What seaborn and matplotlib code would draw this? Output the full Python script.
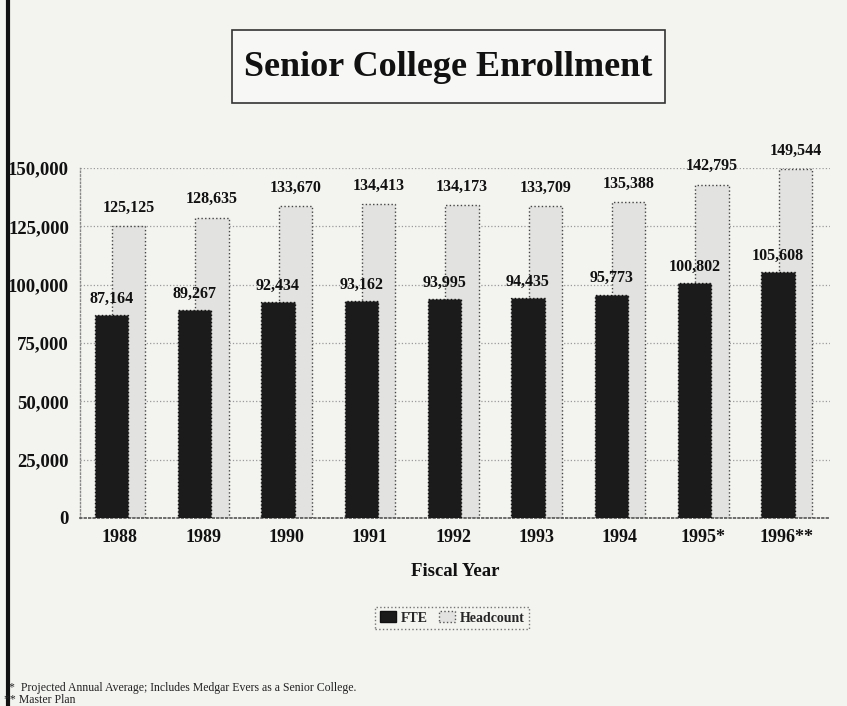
import matplotlib
matplotlib.use("Agg")
import matplotlib.pyplot as plt
import seaborn as sns
import pandas as pd
from matplotlib.patches import Rectangle, Patch
from matplotlib.lines import Line2D

years = ["1988", "1989", "1990", "1991", "1992", "1993", "1994", "1995*", "1996**"]
fte = [87164, 89267, 92434, 93162, 93995, 94435, 95773, 100802, 105608]
headcount = [125125, 128635, 133670, 134413, 134173, 133709, 135388, 142795, 149544]
yticks = [0, 25000, 50000, 75000, 100000, 125000, 150000]

sns.set_theme(style="white")
plt.rcParams['font.family'] = ['Liberation Serif', 'DejaVu Serif']

bg = "#f3f3f0"
fig = plt.figure(figsize=(8.47, 7.06), dpi=100, facecolor=bg)
ax = fig.add_axes([80/847, 188/706, 750/847, 350/706])
ax.set_facecolor(bg)

df = pd.DataFrame({"year": years, "FTE": fte, "Headcount": headcount})

sns.barplot(data=df, x="year", y="Headcount", ax=ax, color="#e2e2e0", width=0.40,
            edgecolor="#444444", linewidth=1.0, linestyle=":", saturation=1, zorder=2)
n_hc = len(ax.patches)
sns.barplot(data=df, x="year", y="FTE", ax=ax, color="#1b1b1b", width=0.40,
            edgecolor="#111111", linewidth=1.0, linestyle=":", saturation=1, zorder=3)

shift = 0.105
for i, p in enumerate(ax.patches):
    if i < n_hc:
        p.set_x(p.get_x() + shift)
    else:
        p.set_x(p.get_x() - shift)

for p, v in zip(ax.patches[:n_hc], headcount):
    ax.text(p.get_x() + p.get_width()/2, v + 4500, f"{v:,}", ha="center", va="bottom",
            fontsize=11.5, fontweight="bold", color="#111111", zorder=5)
for p, v in zip(ax.patches[n_hc:], fte):
    ax.text(p.get_x() + p.get_width()/2, v + 3500, f"{v:,}", ha="center", va="bottom",
            fontsize=11.5, fontweight="bold", color="#111111", zorder=5)

ax.set_xlim(-0.48, 8.52)
ax.set_ylim(0, 150000)
ax.set_yticks(yticks)
ax.set_yticklabels([f"{t:,}" for t in yticks], fontsize=13.5, fontweight="bold", color="#111111")
ax.set_xticks(range(len(years)))
ax.set_xticklabels(years, fontsize=13, fontweight="bold", color="#111111")
ax.tick_params(axis="both", length=0, pad=8)
ax.set_xlabel("Fiscal Year", fontsize=13.5, fontweight="bold", color="#111111", labelpad=12)
ax.set_ylabel("")
for t in yticks[1:]:
    ax.axhline(t, color="#9a9a9a", linestyle=":", linewidth=0.9, zorder=1)
for s in ["top", "right"]:
    ax.spines[s].set_visible(False)
ax.spines["left"].set_color("#888888")
ax.spines["left"].set_linestyle(":")
ax.spines["left"].set_linewidth(1.0)
ax.spines["bottom"].set_color("#555555")
ax.spines["bottom"].set_linestyle(":")
ax.spines["bottom"].set_linewidth(1.2)

# Title box
fig.patches.append(Rectangle((232/847, 1 - 103/706), 433/847, 73/706, transform=fig.transFigure,
                             facecolor="#f7f7f5", edgecolor="#333333", linewidth=1.2))
fig.text(448/847, 1 - 67/706, "Senior College Enrollment", ha="center", va="center",
         fontsize=26, fontweight="bold", color="#111111")

# Legend
handles = [Patch(facecolor="#1b1b1b", edgecolor="#111111", label="FTE"),
           Patch(facecolor="#e2e2e0", edgecolor="#555555", linestyle=":", label="Headcount")]
leg = fig.legend(handles=handles, loc="center", bbox_to_anchor=(452/847, 1 - 618/706), ncol=2,
                 frameon=True, prop={"weight": "bold", "size": 10},
                 handlelength=1.2, handleheight=0.8, handletextpad=0.3, columnspacing=0.8,
                 borderpad=0.35, fancybox=False)
leg.get_frame().set_edgecolor("#555555")
leg.get_frame().set_linestyle(":")
leg.get_frame().set_facecolor(bg)

# Footnotes
fig.text(9/847, 1 - 688/706, "*  Projected Annual Average; Includes Medgar Evers as a Senior College.",
         fontsize=8.5, color="#222222", va="center")
fig.text(4/847, 1 - 700/706, "** Master Plan", fontsize=8.5, color="#222222", va="center")

# Left border line
fig.add_artist(Line2D([8/847, 8/847], [0, 1], transform=fig.transFigure, color="#111111", linewidth=3))

fig.savefig("out.png", dpi=100, facecolor=bg)
